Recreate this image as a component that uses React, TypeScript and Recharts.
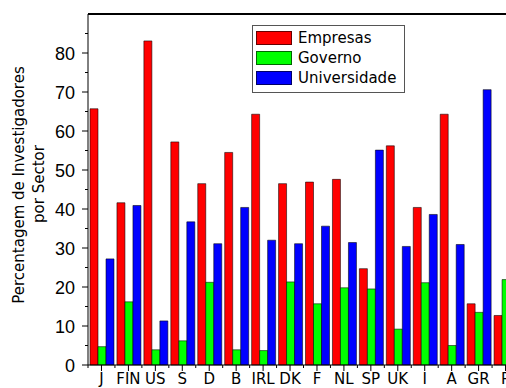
import React from 'react';
import { BarChart, Bar, XAxis, YAxis, Legend, ReferenceLine } from 'recharts';

const categories = ['J', 'FIN', 'US', 'S', 'D', 'B', 'IRL', 'DK', 'F', 'NL', 'SP', 'UK', 'I', 'A', 'GR', 'P'];
const empresas = [65.7, 41.6, 83.1, 57.2, 46.5, 54.5, 64.3, 46.5, 46.9, 47.6, 24.7, 56.2, 40.4, 64.3, 15.7, 12.7];
const governo = [4.7, 16.2, 3.9, 6.2, 21.2, 3.9, 3.7, 21.3, 15.7, 19.8, 19.5, 9.2, 21.1, 5.0, 13.5, 21.9];
const universidade = [27.2, 40.9, 11.3, 36.7, 31.1, 40.4, 32.0, 31.1, 35.6, 31.4, 55.1, 30.4, 38.6, 30.9, 70.6, 64.0];
const yTicks = [0, 5, 10, 15, 20, 25, 30, 35, 40, 45, 50, 55, 60, 65, 70, 75, 80, 85];

const data = categories.map((c, i) => ({
  pais: c,
  Empresas: empresas[i],
  Governo: governo[i],
  Universidade: universidade[i],
}));

// y ticks: long tick + label every 10, short tick every 5
const YTick = ({ x, y, payload }: any) => {
  const major = payload.value % 10 === 0;
  return (
    <g>
      <line x1={x - (major ? 6 : 3)} x2={x} y1={y} y2={y} stroke="#000" strokeWidth={1} />
      {major && (
        <text x={x - 13} y={y} dy={6.5} textAnchor="end" fontFamily="Liberation Sans" fontSize={18} fill="#000">
          {payload.value}
        </text>
      )}
    </g>
  );
};

// x ticks: long tick at the country, short tick at the band edge
const XTick = ({ x, y, payload }: any) => {
  const half = payload.offset || 13.5;
  return (
    <g>
      <line x1={x} x2={x} y1={y} y2={y + 6} stroke="#000" strokeWidth={1} />
      <line x1={x - half} x2={x - half} y1={y} y2={y + 3} stroke="#000" strokeWidth={1} />
      <text x={x} y={y + 19} textAnchor="middle" fontFamily="DejaVu Sans" fontSize={15} fill="#000">
        {payload.value}
      </text>
    </g>
  );
};

const YLabel = () => (
  <g fontFamily="DejaVu Sans" fontSize={15} fill="#000">
    <text transform="rotate(-90)" x={-177} y={16} textAnchor="middle">Percentagem de Investigadores</text>
    <text transform="rotate(-90)" x={-176} y={36} textAnchor="middle">por Sector</text>
  </g>
);

const LegendBox = ({ payload }: any) => (
  <div
    style={{
      boxSizing: 'border-box',
      width: 153,
      border: '1px solid #555',
      background: '#fff',
      padding: '2px 4px 4px 3px',
      fontFamily: 'DejaVu Sans',
      fontSize: 15,
      lineHeight: '20px',
      color: '#000',
    }}
  >
    {(payload || []).map((entry: any) => (
      <div key={entry.value} style={{ display: 'flex', alignItems: 'flex-start', height: 20 }}>
        <span
          style={{
            boxSizing: 'border-box',
            display: 'inline-block',
            width: 36,
            height: 14,
            marginTop: 3,
            marginRight: 6,
            background: entry.color,
            border: '1px solid rgba(0,0,0,0.6)',
          }}
        />
        <span>{entry.value}</span>
      </div>
    ))}
  </div>
);

export default function App() {
  return (
    <div style={{ position: 'absolute', left: 8, top: 8, width: 498, height: 380, overflow: 'hidden', background: '#fff' }}>
      <BarChart
        width={520}
        height={380}
        data={data}
        margin={{ top: 6, right: 9, bottom: 0, left: 0 }}
        barCategoryGap={2}
        barGap={0}
      >
        <XAxis
          dataKey="pais"
          height={23}
          interval={0}
          tickLine={false}
          tickSize={0}
          tickMargin={0}
          tick={<XTick />}
          axisLine={{ stroke: '#000', strokeWidth: 1 }}
        />
        <YAxis
          width={80}
          domain={[0, 90]}
          ticks={yTicks}
          interval={0}
          tickLine={false}
          tickSize={0}
          tickMargin={0}
          tick={<YTick />}
          axisLine={{ stroke: '#000', strokeWidth: 1 }}
          label={YLabel}
        />
        <ReferenceLine y={90} stroke="#000" strokeWidth={2} />
        <Legend
          layout="vertical"
          align="center"
          verticalAlign="middle"
          content={<LegendBox />}
          wrapperStyle={{ left: 244, top: 17, width: 'auto' }}
        />
        <Bar dataKey="Empresas" fill="#ff0000" stroke="#000" strokeOpacity={0.55} strokeWidth={1} isAnimationActive={false} />
        <Bar dataKey="Governo" fill="#00ff00" stroke="#000" strokeOpacity={0.55} strokeWidth={1} isAnimationActive={false} />
        <Bar dataKey="Universidade" fill="#0000ff" stroke="#000" strokeOpacity={0.55} strokeWidth={1} isAnimationActive={false} />
      </BarChart>
    </div>
  );
}
